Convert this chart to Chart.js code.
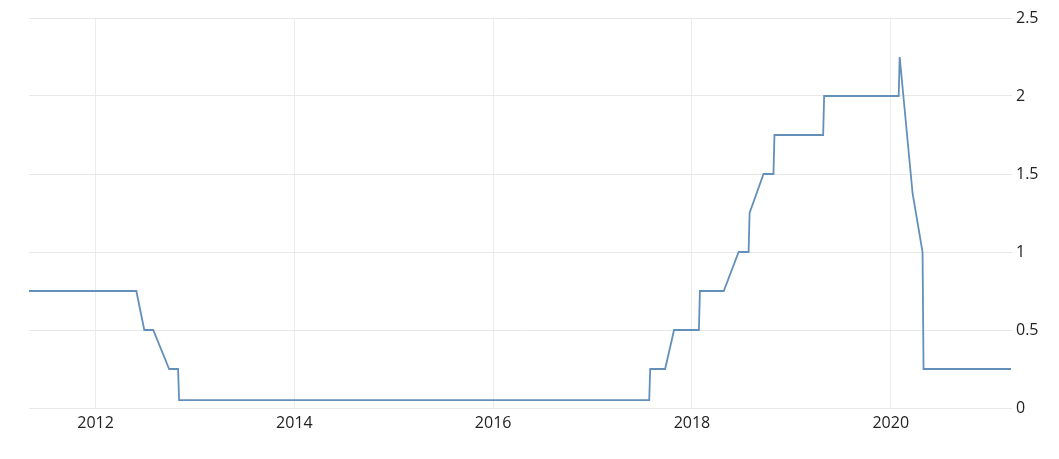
<!DOCTYPE html>
<html>
<head>
<meta charset="utf-8">
<script src="https://cdn.jsdelivr.net/npm/chart.js@4/dist/chart.umd.min.js"></script>
<style>
  html, body { margin: 0; padding: 0; background: #fff; }
  #wrap { width: 1059px; height: 459px; }
</style>
</head>
<body>
<div id="wrap"><canvas id="rateChart" width="1059" height="459"></canvas></div>
<script>
// --- Data (decimal years, rate %) ---
const years = [
  2011.33, 2012.41, 2012.49, 2012.58, 2012.74, 2012.83, 2012.84,
  2017.57, 2017.58, 2017.73, 2017.82, 2018.07, 2018.08, 2018.32,
  2018.47, 2018.57, 2018.58, 2018.72, 2018.82, 2018.83, 2019.32,
  2019.33, 2020.08, 2020.09, 2020.22, 2020.32, 2020.33, 2021.21
];
const rates = [
  0.75, 0.75, 0.5, 0.5, 0.25, 0.25, 0.05,
  0.05, 0.25, 0.25, 0.5, 0.5, 0.75, 0.75,
  1.0, 1.0, 1.25, 1.5, 1.5, 1.75, 1.75,
  2.0, 2.0, 2.25, 1.375, 1.0, 0.25, 0.25
];
const xTickYears = [2012, 2014, 2016, 2018, 2020];
const yTickValues = [0, 0.5, 1, 1.5, 2, 2.5];

const points = years.map((x, i) => ({ x: x, y: rates[i] }));

new Chart(document.getElementById("rateChart"), {
  type: "line",
  data: {
    datasets: [{
      data: points,
      borderColor: "#6390bb",
      borderWidth: 1.8,
      pointRadius: 0,
      tension: 0,
      fill: false
    }]
  },
  options: {
    responsive: false,
    animation: false,
    layout: { padding: { left: 29, top: 18, right: 0, bottom: 0 } },
    plugins: { legend: { display: false }, tooltip: { enabled: false } },
    scales: {
      x: {
        type: "linear",
        min: 2011.33,
        max: 2021.22,
        afterBuildTicks: axis => { axis.ticks = xTickYears.map(v => ({ value: v })); },
        afterFit: axis => { axis.height = 51; },
        border: { display: false },
        grid: { color: "#ececec", drawTicks: false },
        ticks: {
          padding: 6,
          color: "#222",
          font: { family: "'Open Sans', sans-serif", size: 16 },
          callback: v => String(v)
        }
      },
      y: {
        position: "right",
        min: 0,
        max: 2.5,
        afterBuildTicks: axis => { axis.ticks = yTickValues.map(v => ({ value: v })); },
        afterFit: axis => { axis.width = 47; },
        border: { display: false },
        grid: { color: "#e8e8e8", drawTicks: false },
        ticks: {
          padding: 4,
          color: "#222",
          font: { family: "'Open Sans', sans-serif", size: 16 },
          callback: v => String(v)
        }
      }
    }
  }
});
</script>
</body>
</html>
